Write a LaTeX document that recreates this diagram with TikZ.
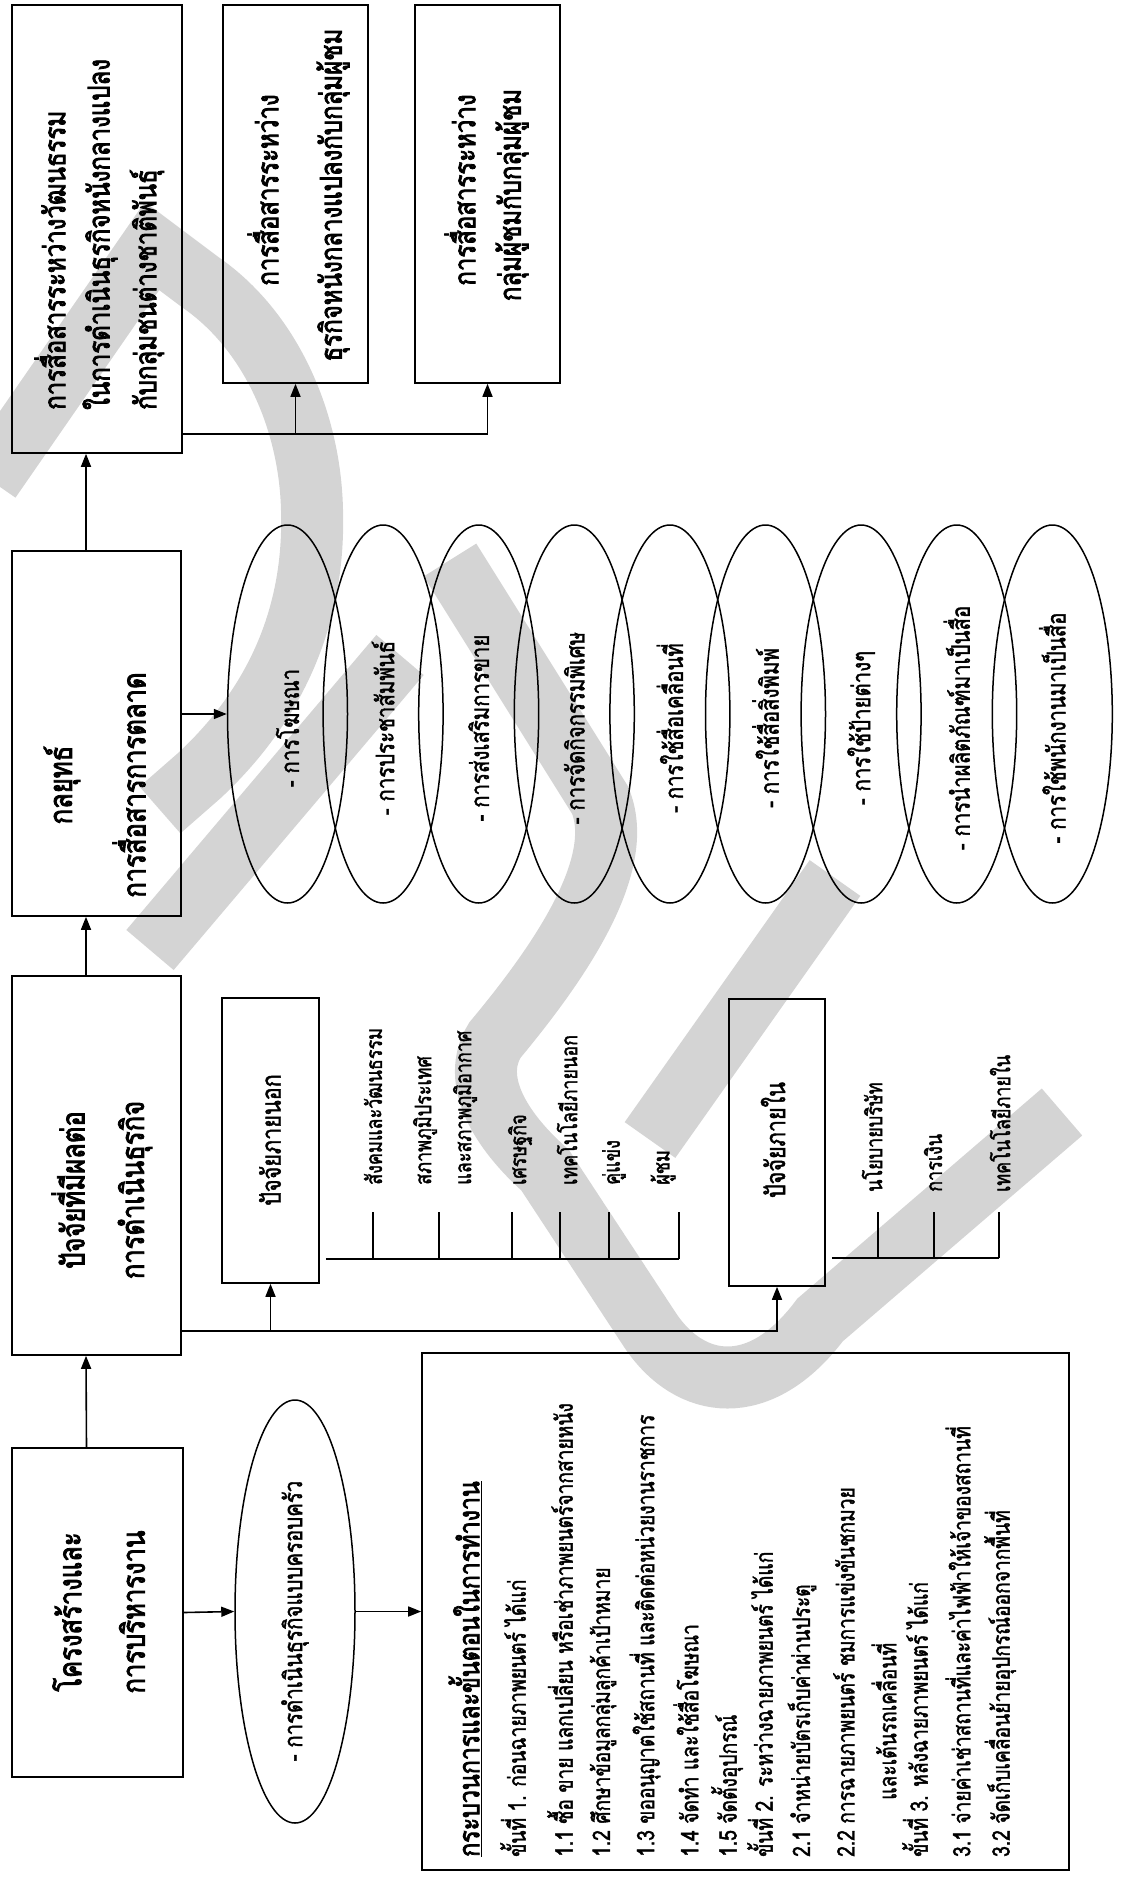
\documentclass[tikz,border=0pt]{standalone}
\usepackage{fontspec}
\usetikzlibrary{arrows.meta,shapes.geometric,calc}
\newfontfamily\thai[Script=Thai,FakeStretch=0.8,FakeBold=1.6]{Loma}
\newfontfamily\thaiB[Script=Thai,FakeStretch=0.8,FakeBold=2.6]{Loma}
\begin{document}
\begin{tikzpicture}[x=1pt,y=-1pt]
\tikzset{
 bx/.style={draw,line width=1.6pt,inner sep=0pt},
 el/.style={draw,ellipse,line width=1.5pt,inner sep=0pt,minimum width=120pt,minimum height=378pt},
 ln/.style={line width=1.5pt},
 arr/.style={line width=1.6pt,-{Triangle[length=13pt,width=10pt]}},
 wm/.style={line width=62pt,draw=black,draw opacity=0.17},
 big/.style={rotate=90,inner sep=0pt,font=\thaiB\fontsize{32}{36}\selectfont},
 bigs/.style={rotate=90,inner sep=0pt,font=\thaiB\fontsize{30}{34}\selectfont},
 itm/.style={rotate=90,inner sep=0pt,font=\thai\fontsize{22.5}{26}\selectfont},
 ftx/.style={rotate=90,inner sep=0pt,font=\thai\fontsize{27}{30}\selectfont},
 stx/.style={rotate=90,inner sep=0pt,font=\thai\fontsize{25.5}{30}\selectfont},
 ptx/.style={rotate=90,inner sep=0pt,anchor=west,font=\thai\fontsize{24}{28}\selectfont}
}
\useasboundingbox (0,0) rectangle (1122,1878);
% watermark
\draw[wm] (-10,480) -- (152,246) -- (200,282) .. controls (270,330) and (310,420) .. (312,510) .. controls (315,610) and (280,700) .. (200,775) -- (160,810);
\draw[wm] (150,950) -- (400,655);
\draw[wm] (450,560) -- (600,800) .. controls (625,860) and (570,950) .. (495,1040) .. controls (470,1080) and (500,1130) .. (545,1170) -- (650,1330) .. controls (690,1390) and (760,1400) .. (820,1320) -- (1062,1112);
\draw[wm] (650,1140) -- (835,878);
% main column
\node[bx,minimum width=171pt,minimum height=329pt] (b1) at (97.5,1612.5) {};
\node[bx,minimum width=169pt,minimum height=379pt] (b2) at (96.5,1165.5) {};
\node[bx,minimum width=169pt,minimum height=365pt] (b3) at (96.5,733.5) {};
\node[bx,minimum width=170pt,minimum height=448pt] (b4) at (97,229) {};
\node[bx,minimum width=145pt,minimum height=378pt] (b5) at (295.5,194) {};
\node[bx,minimum width=145pt,minimum height=378pt] (b6) at (487.5,194) {};
\node[bx,minimum width=97pt,minimum height=285pt] (pout) at (270.5,1140.5) {};
\node[bx,minimum width=96pt,minimum height=287pt] (pin) at (777,1142.5) {};
\node[bx,minimum width=647pt,minimum height=517pt] (bigb) at (745.5,1611.5) {};
\node[el,minimum height=423pt] (e0) at (295,1611.5) {};
% box texts
\node[big] (t1a) at (67,1612) {โครงสร้างและ};
\node[big] (t1b) at (132,1612) {การบริหารงาน};
\node[big] (t2a) at (68,1190) {ปัจจัยที่มีผลต่อ};
\node[big] (t2b) at (135,1190) {การดำเนินธุรกิจ};
\node[big] (t3a) at (62,785) {กลยุทธ์};
\node[big] (t3b) at (129,785) {การสื่อสารการตลาด};
\node[bigs,anchor=west] (t4a) at (50,410) {การสื่อสารระหว่างวัฒนธรรม};
\node[bigs,anchor=west] (t4b) at (100,410) {ในการดำเนินธุรกิจหนังกลางแปลง};
\node[bigs,anchor=west] (t4c) at (147,410) {กับกลุ่มชนต่างชาติพันธุ์};
\node[bigs] (t5a) at (263,190) {การสื่อสารระหว่าง};
\node[bigs] (t5b) at (333,195) {ธุรกิจหนังกลางแปลงกับกลุ่มผู้ชม};
\node[bigs] (t6a) at (460,190) {การสื่อสารระหว่าง};
\node[bigs] (t6b) at (512,195) {กลุ่มผู้ชมกับกลุ่มผู้ชม};
\node[ftx] (tpo) at (270,1140) {ปัจจัยภายนอก};
\node[ftx] (tpi) at (773,1140) {ปัจจัยภายใน};
\node[stx] (te0) at (295,1621) {- การดำเนินธุรกิจแบบครอบครัว};
% external factor items
\foreach \x/\t [count=\i] in {373/สังคมและวัฒนธรรม,425/สภาพภูมิประเทศ,465/และสภาพภูมิอากาศ,520/เศรษฐกิจ,567/เทคโนโลยีภายนอก,614/คู่แข่ง,663/ผู้ชม}
  \node[itm,anchor=west] (o\i) at (\x,1185) {\t};
\foreach \x in {373,439,512,560,609,679}
  \draw[ln] (\x,1259) -- (\x,1212);
\draw[ln] ([xshift=6pt]pout.east |- 0,1259) -- (679,1259);
% internal factor items
\foreach \x/\t [count=\i] in {872/นโยบายบริษัท,933/การเงิน,1000/เทคโนโลยีภายใน}
  \node[itm,anchor=west] (n\i) at (\x,1192) {\t};
\foreach \x in {878,934,999}
  \draw[ln] (\x,1258) -- (\x,1212);
\draw[ln] ([xshift=6pt]pin.east |- 0,1258) -- (999,1258);
% strategy ellipses
\foreach \t [count=\i from 0] in {การโฆษณา,การประชาสัมพันธ์,การส่งเสริมการขาย,การจัดกิจกรรมพิเศษ,การใช้สื่อเคลื่อนที่,การใช้สื่อสิ่งพิมพ์,การใช้ป้ายต่างๆ,การนำผลิตภัณฑ์มาเป็นสื่อ,การใช้พนักงานมาเป็นสื่อ}{
  \node[el] (s\i) at ({287.5+95.6*\i},714) {};
  \node[stx] (st\i) at ({287.5+95.6*\i},728) {- \t};
}
% process box text
\node[ptx,font=\thaiB\fontsize{29}{32}\selectfont] (p0) at (465,1857) {\underline{กระบวนการและขั้นตอนในการทำงาน}};
\node[ptx] (p1) at (513,1857) {ขั้นที่ 1. ก่อนฉายภาพยนตร์ ได้แก่};
\node[ptx] (p2) at (560,1857) {1.1 ซื้อ ขาย แลกเปลี่ยน หรือเช่าภาพยนตร์จากสายหนัง};
\node[ptx] (p3) at (603,1857) {1.2 ศึกษาข้อมูลกลุ่มลูกค้าเป้าหมาย};
\node[ptx] (p4) at (645,1857) {1.3 ขออนุญาตใช้สถานที่ และติดต่อหน่วยงานราชการ};
\node[ptx] (p5) at (686,1857) {1.4 จัดทำ และใช้สื่อโฆษณา};
\node[ptx] (p6) at (727,1857) {1.5 จัดตั้งอุปกรณ์};
\node[ptx] (p7) at (760,1857) {ขั้นที่ 2. ระหว่างฉายภาพยนตร์ ได้แก่};
\node[ptx] (p8) at (802,1857) {2.1 จำหน่ายบัตรเก็บค่าผ่านประตู};
\node[ptx] (p9) at (844,1857) {2.2 การฉายภาพยนตร์ ชมการแข่งขันชกมวย};
\node[ptx] (p10) at (884,1800) {และเต้นรถเคลื่อนที่};
\node[ptx] (p11) at (915,1857) {ขั้นที่ 3. หลังฉายภาพยนตร์ ได้แก่};
\node[ptx] (p12) at (958,1857) {3.1 จ่ายค่าเช่าสถานที่และค่าไฟฟ้าให้เจ้าของสถานที่};
\node[ptx] (p13) at (1000,1857) {3.2 จัดเก็บเคลื่อนย้ายอุปกรณ์ออกจากพื้นที่};
% connectors
\draw[arr] ([xshift=-11pt]b1.north) -- ([xshift=-10.5pt]b2.south);
\draw[arr] ([xshift=-10.5pt]b2.north) -- ([xshift=-10.5pt]b3.south);
\draw[arr] ([xshift=-10.5pt]b3.north) -- ([xshift=-11pt]b4.south);
\draw[arr] (b1.east) -- (e0.west);
\draw[arr] (e0.east) -- (bigb.west);
\draw[arr] (b3.east |- s0.west) -- (s0.west);
\coordinate (j4) at ([yshift=20pt]b4.south east);
\draw[arr] (j4) -| (b6.south);
\draw[arr] (j4 -| b5.south) -- (b5.south);
\coordinate (j2) at ([yshift=25pt]b2.south east);
\draw[arr] (j2) -| (pin.south);
\draw[arr] (j2 -| pout.south) -- (pout.south);
\end{tikzpicture}
\end{document}
